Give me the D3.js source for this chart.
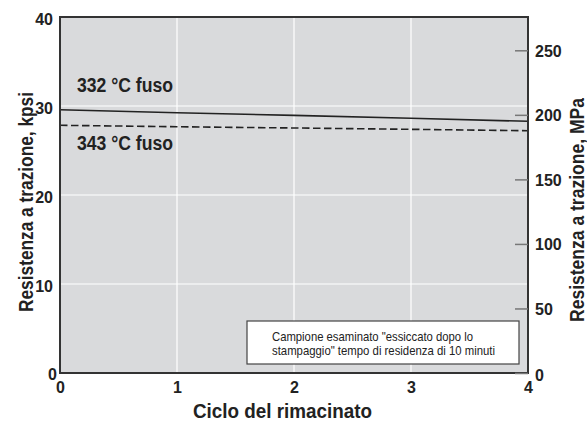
<!DOCTYPE html>
<meta charset="utf-8">
<style>
    body { margin: 0; background: #fff; }
    svg { display: block; }
    text { font-family: "Liberation Sans", Arial, Helvetica, sans-serif; fill: #222; }
    .tick text { font-weight: bold; font-size: 16px; }
</style>
<svg width="587" height="421"></svg>
<script src="https://d3js.org/d3.v7.min.js"></script>
<script>

    // regrind cycles and tensile strength (kpsi)
    var cycles = [0, 1, 2, 3, 4];
    var melt332 = [29.58, 29.25, 28.95, 28.62, 28.28];
    var melt343 = [27.83, 27.67, 27.53, 27.38, 27.22];

    var xTicks = [0, 1, 2, 3, 4];
    var kpsiTicks = [0, 10, 20, 30, 40];
    var mpaTicks = [0, 50, 100, 150, 200, 250];
    var kpsiToMpa = 6.895;

    var svg = d3.select("svg"),
        margin = {top: 17, right: 59, bottom: 48, left: 60},
        width = +svg.attr("width") - margin.left - margin.right,
        height = +svg.attr("height") - margin.top - margin.bottom;

    var x = d3.scaleLinear().domain([0, 4]).range([0, width]);
    var y = d3.scaleLinear().domain([0, 40]).range([height, 0]);
    var y2 = d3.scaleLinear().domain([0, 40 * kpsiToMpa]).range([height, 0]);

    // condensed look: the original font is a narrow grotesk, so squeeze Liberation Sans
    function narrow(sel, len) {
        sel.attr("textLength", len).attr("lengthAdjust", "spacingAndGlyphs");
    }

    var g = svg.append("g")
        .attr("transform", "translate(" + margin.left + "," + margin.top + ")");

    g.append("rect")
        .attr("width", width)
        .attr("height", height)
        .attr("fill", "#d9dadc");

    // white grid
    g.append("g")
        .selectAll("line")
        .data(kpsiTicks.slice(1, -1))
        .enter().append("line")
        .attr("x1", 0).attr("x2", width)
        .attr("y1", function (d) { return y(d); })
        .attr("y2", function (d) { return y(d); })
        .attr("stroke", "#fff")
        .attr("stroke-width", 1.2);

    g.append("g")
        .selectAll("line")
        .data(xTicks.slice(1, -1))
        .enter().append("line")
        .attr("y1", 0).attr("y2", height)
        .attr("x1", function (d) { return x(d); })
        .attr("x2", function (d) { return x(d); })
        .attr("stroke", "#fff")
        .attr("stroke-width", 1.2);

    // note box
    var boxW = 272, boxH = 43, inset = 9;
    var note = g.append("g")
        .attr("transform", "translate(" + (width - inset - boxW) + "," + (height - inset - boxH) + ")");
    note.append("rect")
        .attr("width", boxW)
        .attr("height", boxH)
        .attr("fill", "#fff")
        .attr("stroke", "#444")
        .attr("stroke-width", 1.2);
    note.append("text")
        .attr("x", 25).attr("y", 20)
        .attr("font-size", "13px")
        .call(narrow, 201)
        .text("Campione esaminato \"essiccato dopo lo");
    note.append("text")
        .attr("x", 25).attr("y", 34)
        .attr("font-size", "13px")
        .call(narrow, 223)
        .text("stampaggio\" tempo di residenza di 10 minuti");

    // lines
    var line = d3.line()
        .x(function (d, i) { return x(cycles[i]); })
        .y(function (d) { return y(d); });

    g.append("path")
        .datum(melt332)
        .attr("d", line)
        .attr("fill", "none")
        .attr("stroke", "#222")
        .attr("stroke-width", 1.6);

    g.append("path")
        .datum(melt343)
        .attr("d", line)
        .attr("fill", "none")
        .attr("stroke", "#222")
        .attr("stroke-width", 1.6)
        .attr("stroke-dasharray", "7.5,3.5");

    g.append("text")
        .attr("x", x(0) + 17)
        .attr("y", y(melt332[0]) - 18)
        .attr("font-size", "20px")
        .attr("font-weight", "bold")
        .call(narrow, 96)
        .text("332 °C fuso");

    g.append("text")
        .attr("x", x(0) + 17)
        .attr("y", y(melt343[0]) + 25)
        .attr("font-size", "20px")
        .attr("font-weight", "bold")
        .call(narrow, 96)
        .text("343 °C fuso");

    // frame
    g.append("rect")
        .attr("width", width)
        .attr("height", height)
        .attr("fill", "none")
        .attr("stroke", "#333")
        .attr("stroke-width", 2);

    // axes
    var xAxis = g.append("g")
        .attr("transform", "translate(0," + height + ")")
        .call(d3.axisBottom(x).tickValues(xTicks).tickFormat(d3.format("d")).tickSize(0).tickPadding(9));
    xAxis.select(".domain").remove();

    var yAxis = g.append("g")
        .call(d3.axisLeft(y).tickValues(kpsiTicks).tickSize(0).tickPadding(7));
    yAxis.select(".domain").remove();
    yAxis.selectAll(".tick text")
        .attr("dy", function (d) { return d === 0 ? "0.4em" : "0.48em"; })
        .attr("dx", function (d) { return d === 0 ? 4 : 0; });

    var y2Axis = g.append("g")
        .attr("transform", "translate(" + width + ",0)")
        .call(d3.axisLeft(y2).tickValues(mpaTicks).tickSize(13));
    y2Axis.select(".domain").remove();
    y2Axis.selectAll(".tick line")
        .attr("stroke", "#777")
        .attr("stroke-width", 1.5)
        .attr("x2", -13);
    y2Axis.selectAll(".tick text")
        .attr("x", 7)
        .attr("text-anchor", "start")
        .attr("dy", function (d) { return d === 0 ? "0.45em" : "0.36em"; });

    // axis titles
    svg.append("text")
        .attr("x", margin.left + width / 2 - 101)
        .attr("y", 418)
        .attr("font-size", "20px")
        .attr("font-weight", "bold")
        .call(narrow, 179)
        .text("Ciclo del rimacinato");

    svg.append("text")
        .attr("transform", "translate(33," + (margin.top + height / 2 + 7 + 110) + ") rotate(-90)")
        .attr("font-size", "20px")
        .attr("font-weight", "bold")
        .call(narrow, 220)
        .text("Resistenza a trazione, kpsi");

    svg.append("text")
        .attr("transform", "translate(584," + (margin.top + height / 2 + 15 + 112) + ") rotate(-90)")
        .attr("font-size", "20px")
        .attr("font-weight", "bold")
        .call(narrow, 224)
        .text("Resistenza a trazione, MPa");

</script>
